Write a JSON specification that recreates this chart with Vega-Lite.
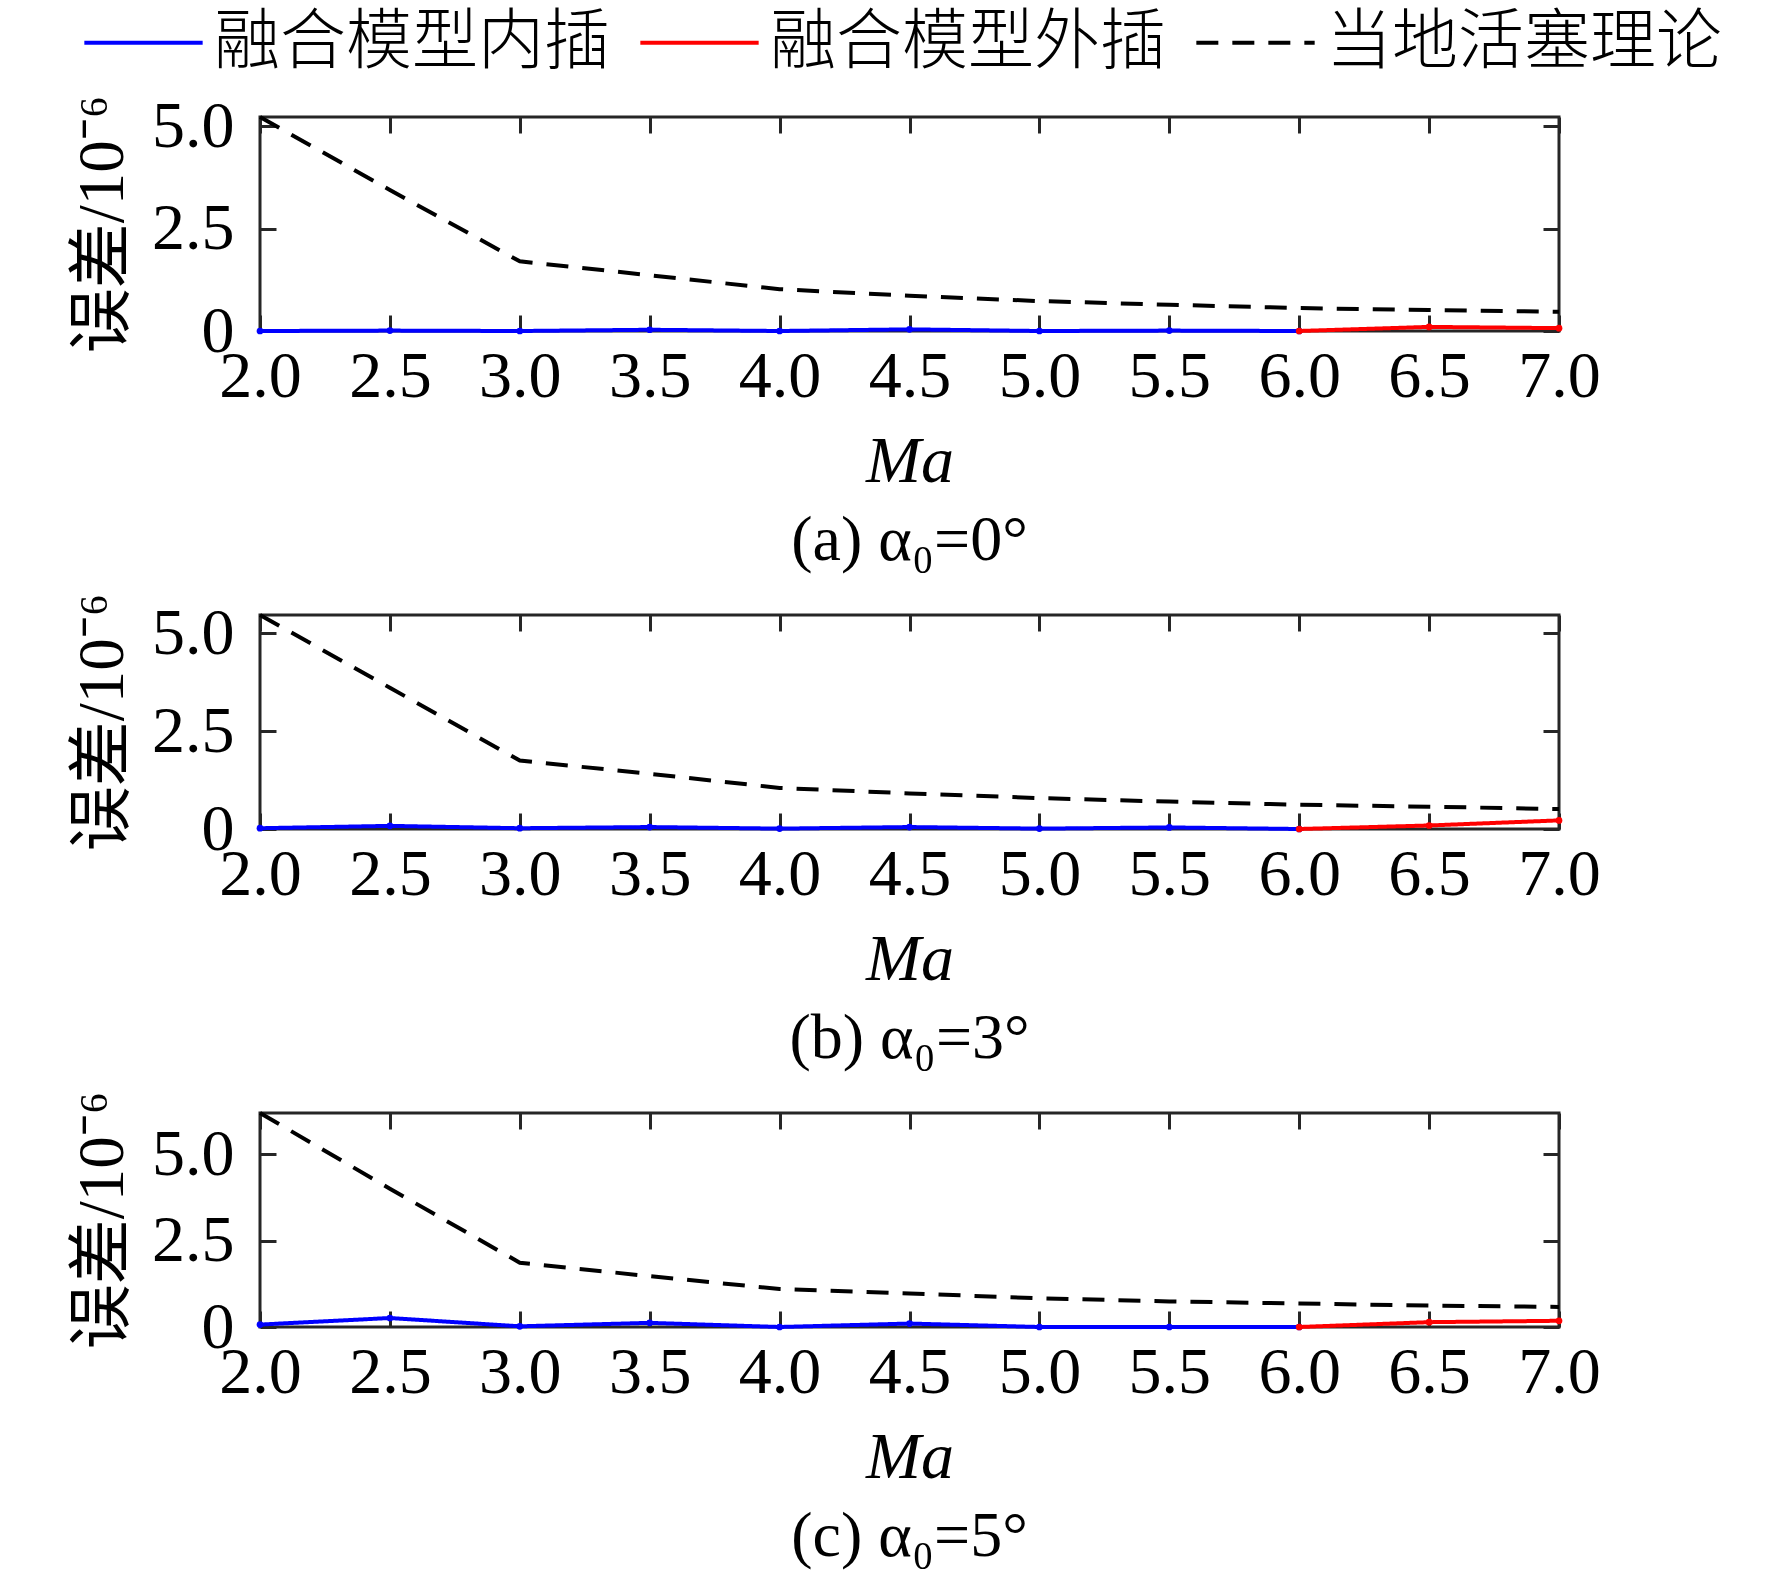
{
  "$schema": "https://vega.github.io/schema/vega-lite/v6.json",
  "background": "white",
  "padding": {"left": 69, "top": -19, "right": 5, "bottom": 5},
  "spacing": 16,
  "datasets": {
    "a": [
      {"Ma": 2.0, "err": 5.22, "series": "当地活塞理论"},
      {"Ma": 2.5, "err": 3.44, "series": "当地活塞理论"},
      {"Ma": 3.0, "err": 1.70, "series": "当地活塞理论"},
      {"Ma": 3.5, "err": 1.36, "series": "当地活塞理论"},
      {"Ma": 4.0, "err": 1.02, "series": "当地活塞理论"},
      {"Ma": 4.5, "err": 0.86, "series": "当地活塞理论"},
      {"Ma": 5.0, "err": 0.73, "series": "当地活塞理论"},
      {"Ma": 5.5, "err": 0.64, "series": "当地活塞理论"},
      {"Ma": 6.0, "err": 0.56, "series": "当地活塞理论"},
      {"Ma": 6.5, "err": 0.51, "series": "当地活塞理论"},
      {"Ma": 7.0, "err": 0.47, "series": "当地活塞理论"},
      {"Ma": 2.0, "err": 0.00, "series": "融合模型内插"},
      {"Ma": 2.5, "err": 0.01, "series": "融合模型内插"},
      {"Ma": 3.0, "err": 0.00, "series": "融合模型内插"},
      {"Ma": 3.5, "err": 0.03, "series": "融合模型内插"},
      {"Ma": 4.0, "err": 0.00, "series": "融合模型内插"},
      {"Ma": 4.5, "err": 0.04, "series": "融合模型内插"},
      {"Ma": 5.0, "err": 0.00, "series": "融合模型内插"},
      {"Ma": 5.5, "err": 0.01, "series": "融合模型内插"},
      {"Ma": 6.0, "err": 0.00, "series": "融合模型内插"},
      {"Ma": 6.0, "err": 0.00, "series": "融合模型外插"},
      {"Ma": 6.5, "err": 0.10, "series": "融合模型外插"},
      {"Ma": 7.0, "err": 0.07, "series": "融合模型外插"}
    ],
    "b": [
      {"Ma": 2.0, "err": 5.47, "series": "当地活塞理论"},
      {"Ma": 2.5, "err": 3.61, "series": "当地活塞理论"},
      {"Ma": 3.0, "err": 1.75, "series": "当地活塞理论"},
      {"Ma": 3.5, "err": 1.41, "series": "当地活塞理论"},
      {"Ma": 4.0, "err": 1.05, "series": "当地活塞理论"},
      {"Ma": 4.5, "err": 0.91, "series": "当地活塞理论"},
      {"Ma": 5.0, "err": 0.79, "series": "当地活塞理论"},
      {"Ma": 5.5, "err": 0.70, "series": "当地活塞理论"},
      {"Ma": 6.0, "err": 0.62, "series": "当地活塞理论"},
      {"Ma": 6.5, "err": 0.57, "series": "当地活塞理论"},
      {"Ma": 7.0, "err": 0.51, "series": "当地活塞理论"},
      {"Ma": 2.0, "err": 0.02, "series": "融合模型内插"},
      {"Ma": 2.5, "err": 0.08, "series": "融合模型内插"},
      {"Ma": 3.0, "err": 0.02, "series": "融合模型内插"},
      {"Ma": 3.5, "err": 0.05, "series": "融合模型内插"},
      {"Ma": 4.0, "err": 0.01, "series": "融合模型内插"},
      {"Ma": 4.5, "err": 0.05, "series": "融合模型内插"},
      {"Ma": 5.0, "err": 0.01, "series": "融合模型内插"},
      {"Ma": 5.5, "err": 0.04, "series": "融合模型内插"},
      {"Ma": 6.0, "err": 0.00, "series": "融合模型内插"},
      {"Ma": 6.0, "err": 0.00, "series": "融合模型外插"},
      {"Ma": 6.5, "err": 0.09, "series": "融合模型外插"},
      {"Ma": 7.0, "err": 0.22, "series": "融合模型外插"}
    ],
    "c": [
      {"Ma": 2.0, "err": 6.19, "series": "当地活塞理论"},
      {"Ma": 2.5, "err": 4.00, "series": "当地活塞理论"},
      {"Ma": 3.0, "err": 1.86, "series": "当地活塞理论"},
      {"Ma": 3.5, "err": 1.47, "series": "当地活塞理论"},
      {"Ma": 4.0, "err": 1.10, "series": "当地活塞理论"},
      {"Ma": 4.5, "err": 0.97, "series": "当地活塞理论"},
      {"Ma": 5.0, "err": 0.83, "series": "当地活塞理论"},
      {"Ma": 5.5, "err": 0.74, "series": "当地活塞理论"},
      {"Ma": 6.0, "err": 0.68, "series": "当地活塞理论"},
      {"Ma": 6.5, "err": 0.62, "series": "当地活塞理论"},
      {"Ma": 7.0, "err": 0.58, "series": "当地活塞理论"},
      {"Ma": 2.0, "err": 0.07, "series": "融合模型内插"},
      {"Ma": 2.5, "err": 0.26, "series": "融合模型内插"},
      {"Ma": 3.0, "err": 0.02, "series": "融合模型内插"},
      {"Ma": 3.5, "err": 0.12, "series": "融合模型内插"},
      {"Ma": 4.0, "err": 0.00, "series": "融合模型内插"},
      {"Ma": 4.5, "err": 0.10, "series": "融合模型内插"},
      {"Ma": 5.0, "err": 0.00, "series": "融合模型内插"},
      {"Ma": 5.5, "err": 0.00, "series": "融合模型内插"},
      {"Ma": 6.0, "err": 0.00, "series": "融合模型内插"},
      {"Ma": 6.0, "err": 0.00, "series": "融合模型外插"},
      {"Ma": 6.5, "err": 0.14, "series": "融合模型外插"},
      {"Ma": 7.0, "err": 0.18, "series": "融合模型外插"}
    ]
  },
  "vconcat": [
    {
      "width": 1299,
      "height": 214,
      "title": "(a) α₀=0°",
      "data": {"name": "a"},
      "layer": [
        {
          "transform": [{"filter": "datum.series === '当地活塞理论'"}],
          "mark": {"type": "line", "strokeWidth": 4},
          "encoding": {
            "x": {"field": "Ma", "type": "quantitative", "scale": {"domain": [2, 7], "nice": false},
              "axis": {"orient": "bottom", "values": [2, 2.5, 3, 3.5, 4, 4.5, 5, 5.5, 6, 6.5, 7], "format": ".1f", "title": "Ma"}},
            "y": {"field": "err", "type": "quantitative", "scale": {"domain": [0, 5.22], "nice": false, "zero": true},
              "axis": {"orient": "left", "values": [0, 2.5, 5], "labelExpr": "datum.value == 0 ? '0' : format(datum.value, '.1f')", "title": "误差/10⁻⁶"}},
            "color": {"field": "series", "type": "nominal", "title": null,
              "scale": {"domain": ["融合模型内插", "融合模型外插", "当地活塞理论"], "range": ["#0000ff", "#ff0000", "#000000"]}},
            "strokeDash": {"field": "series", "type": "nominal", "title": null,
              "scale": {"domain": ["融合模型内插", "融合模型外插", "当地活塞理论"], "range": [[1, 0], [1, 0], [22, 14]]}}
          }
        },
        {
          "transform": [{"filter": "datum.series === '融合模型内插'"}],
          "mark": {"type": "line", "strokeWidth": 4, "point": {"filled": true, "size": 45}},
          "encoding": {
            "x": {"field": "Ma", "type": "quantitative", "axis": null},
            "y": {"field": "err", "type": "quantitative", "axis": null},
            "color": {"field": "series", "type": "nominal", "title": null},
            "strokeDash": {"field": "series", "type": "nominal", "title": null}
          }
        },
        {
          "transform": [{"filter": "datum.series === '融合模型外插'"}],
          "mark": {"type": "line", "strokeWidth": 4, "point": {"filled": true, "size": 45}},
          "encoding": {
            "x": {"field": "Ma", "type": "quantitative",
              "axis": {"orient": "top", "values": [2, 2.5, 3, 3.5, 4, 4.5, 5, 5.5, 6, 6.5, 7], "labels": false, "title": null}},
            "y": {"field": "err", "type": "quantitative",
              "axis": {"orient": "right", "values": [0, 2.5, 5], "labels": false, "title": null}},
            "color": {"field": "series", "type": "nominal", "title": null},
            "strokeDash": {"field": "series", "type": "nominal", "title": null}
          }
        }
      ],
      "resolve": {"axis": {"x": "independent", "y": "independent"}}
    },
    {
      "width": 1299,
      "height": 214,
      "title": "(b) α₀=3°",
      "data": {"name": "b"},
      "layer": [
        {
          "transform": [{"filter": "datum.series === '当地活塞理论'"}],
          "mark": {"type": "line", "strokeWidth": 4},
          "encoding": {
            "x": {"field": "Ma", "type": "quantitative", "scale": {"domain": [2, 7], "nice": false},
              "axis": {"orient": "bottom", "values": [2, 2.5, 3, 3.5, 4, 4.5, 5, 5.5, 6, 6.5, 7], "format": ".1f", "title": "Ma"}},
            "y": {"field": "err", "type": "quantitative", "scale": {"domain": [0, 5.47], "nice": false, "zero": true},
              "axis": {"orient": "left", "values": [0, 2.5, 5], "labelExpr": "datum.value == 0 ? '0' : format(datum.value, '.1f')", "title": "误差/10⁻⁶"}},
            "color": {"field": "series", "type": "nominal", "title": null},
            "strokeDash": {"field": "series", "type": "nominal", "title": null}
          }
        },
        {
          "transform": [{"filter": "datum.series === '融合模型内插'"}],
          "mark": {"type": "line", "strokeWidth": 4, "point": {"filled": true, "size": 45}},
          "encoding": {
            "x": {"field": "Ma", "type": "quantitative", "axis": null},
            "y": {"field": "err", "type": "quantitative", "axis": null},
            "color": {"field": "series", "type": "nominal", "title": null},
            "strokeDash": {"field": "series", "type": "nominal", "title": null}
          }
        },
        {
          "transform": [{"filter": "datum.series === '融合模型外插'"}],
          "mark": {"type": "line", "strokeWidth": 4, "point": {"filled": true, "size": 45}},
          "encoding": {
            "x": {"field": "Ma", "type": "quantitative",
              "axis": {"orient": "top", "values": [2, 2.5, 3, 3.5, 4, 4.5, 5, 5.5, 6, 6.5, 7], "labels": false, "title": null}},
            "y": {"field": "err", "type": "quantitative",
              "axis": {"orient": "right", "values": [0, 2.5, 5], "labels": false, "title": null}},
            "color": {"field": "series", "type": "nominal", "title": null},
            "strokeDash": {"field": "series", "type": "nominal", "title": null}
          }
        }
      ],
      "resolve": {"axis": {"x": "independent", "y": "independent"}}
    },
    {
      "width": 1299,
      "height": 214,
      "title": "(c) α₀=5°",
      "data": {"name": "c"},
      "layer": [
        {
          "transform": [{"filter": "datum.series === '当地活塞理论'"}],
          "mark": {"type": "line", "strokeWidth": 4},
          "encoding": {
            "x": {"field": "Ma", "type": "quantitative", "scale": {"domain": [2, 7], "nice": false},
              "axis": {"orient": "bottom", "values": [2, 2.5, 3, 3.5, 4, 4.5, 5, 5.5, 6, 6.5, 7], "format": ".1f", "title": "Ma"}},
            "y": {"field": "err", "type": "quantitative", "scale": {"domain": [0, 6.19], "nice": false, "zero": true},
              "axis": {"orient": "left", "values": [0, 2.5, 5], "labelExpr": "datum.value == 0 ? '0' : format(datum.value, '.1f')", "title": "误差/10⁻⁶"}},
            "color": {"field": "series", "type": "nominal", "title": null},
            "strokeDash": {"field": "series", "type": "nominal", "title": null}
          }
        },
        {
          "transform": [{"filter": "datum.series === '融合模型内插'"}],
          "mark": {"type": "line", "strokeWidth": 4, "point": {"filled": true, "size": 45}},
          "encoding": {
            "x": {"field": "Ma", "type": "quantitative", "axis": null},
            "y": {"field": "err", "type": "quantitative", "axis": null},
            "color": {"field": "series", "type": "nominal", "title": null},
            "strokeDash": {"field": "series", "type": "nominal", "title": null}
          }
        },
        {
          "transform": [{"filter": "datum.series === '融合模型外插'"}],
          "mark": {"type": "line", "strokeWidth": 4, "point": {"filled": true, "size": 45}},
          "encoding": {
            "x": {"field": "Ma", "type": "quantitative",
              "axis": {"orient": "top", "values": [2, 2.5, 3, 3.5, 4, 4.5, 5, 5.5, 6, 6.5, 7], "labels": false, "title": null}},
            "y": {"field": "err", "type": "quantitative",
              "axis": {"orient": "right", "values": [0, 2.5, 5], "labels": false, "title": null}},
            "color": {"field": "series", "type": "nominal", "title": null},
            "strokeDash": {"field": "series", "type": "nominal", "title": null}
          }
        }
      ],
      "resolve": {"axis": {"x": "independent", "y": "independent"}}
    }
  ],
  "resolve": {
    "scale": {"color": "shared", "strokeDash": "shared"},
    "legend": {"color": "shared", "strokeDash": "shared"}
  },
  "config": {
    "view": {"stroke": "#262626", "strokeWidth": 3},
    "axis": {
      "domain": false,
      "grid": false,
      "tickColor": "#262626",
      "tickWidth": 3,
      "tickSize": -16,
      "labelFont": "Liberation Serif",
      "labelFontSize": 66,
      "labelColor": "black",
      "labelFlush": false,
      "labelOverlap": false,
      "titleFont": "Liberation Serif, Noto Sans CJK SC",
      "titleFontSize": 66,
      "titleFontWeight": "normal",
      "titleColor": "black"
    },
    "axisX": {"labelPadding": 29, "titlePadding": 20, "titleFontStyle": "italic"},
    "axisY": {"labelPadding": 42, "titlePadding": 15, "titleFontSize": 65},
    "title": {
      "font": "Liberation Serif, Noto Sans CJK SC",
      "fontSize": 64,
      "fontWeight": "normal",
      "color": "black",
      "orient": "bottom",
      "anchor": "middle",
      "frame": "group",
      "offset": 15
    },
    "legend": {
      "orient": "none",
      "legendX": -178,
      "legendY": -136,
      "direction": "horizontal",
      "symbolType": "stroke",
      "symbolSize": 14000,
      "symbolStrokeWidth": 4,
      "labelFont": "Noto Sans CJK SC",
      "labelFontSize": 66,
      "labelFontWeight": 300,
      "labelColor": "black",
      "labelOffset": 9,
      "labelLimit": 1000,
      "columnPadding": 22,
      "padding": 0
    }
  }
}
